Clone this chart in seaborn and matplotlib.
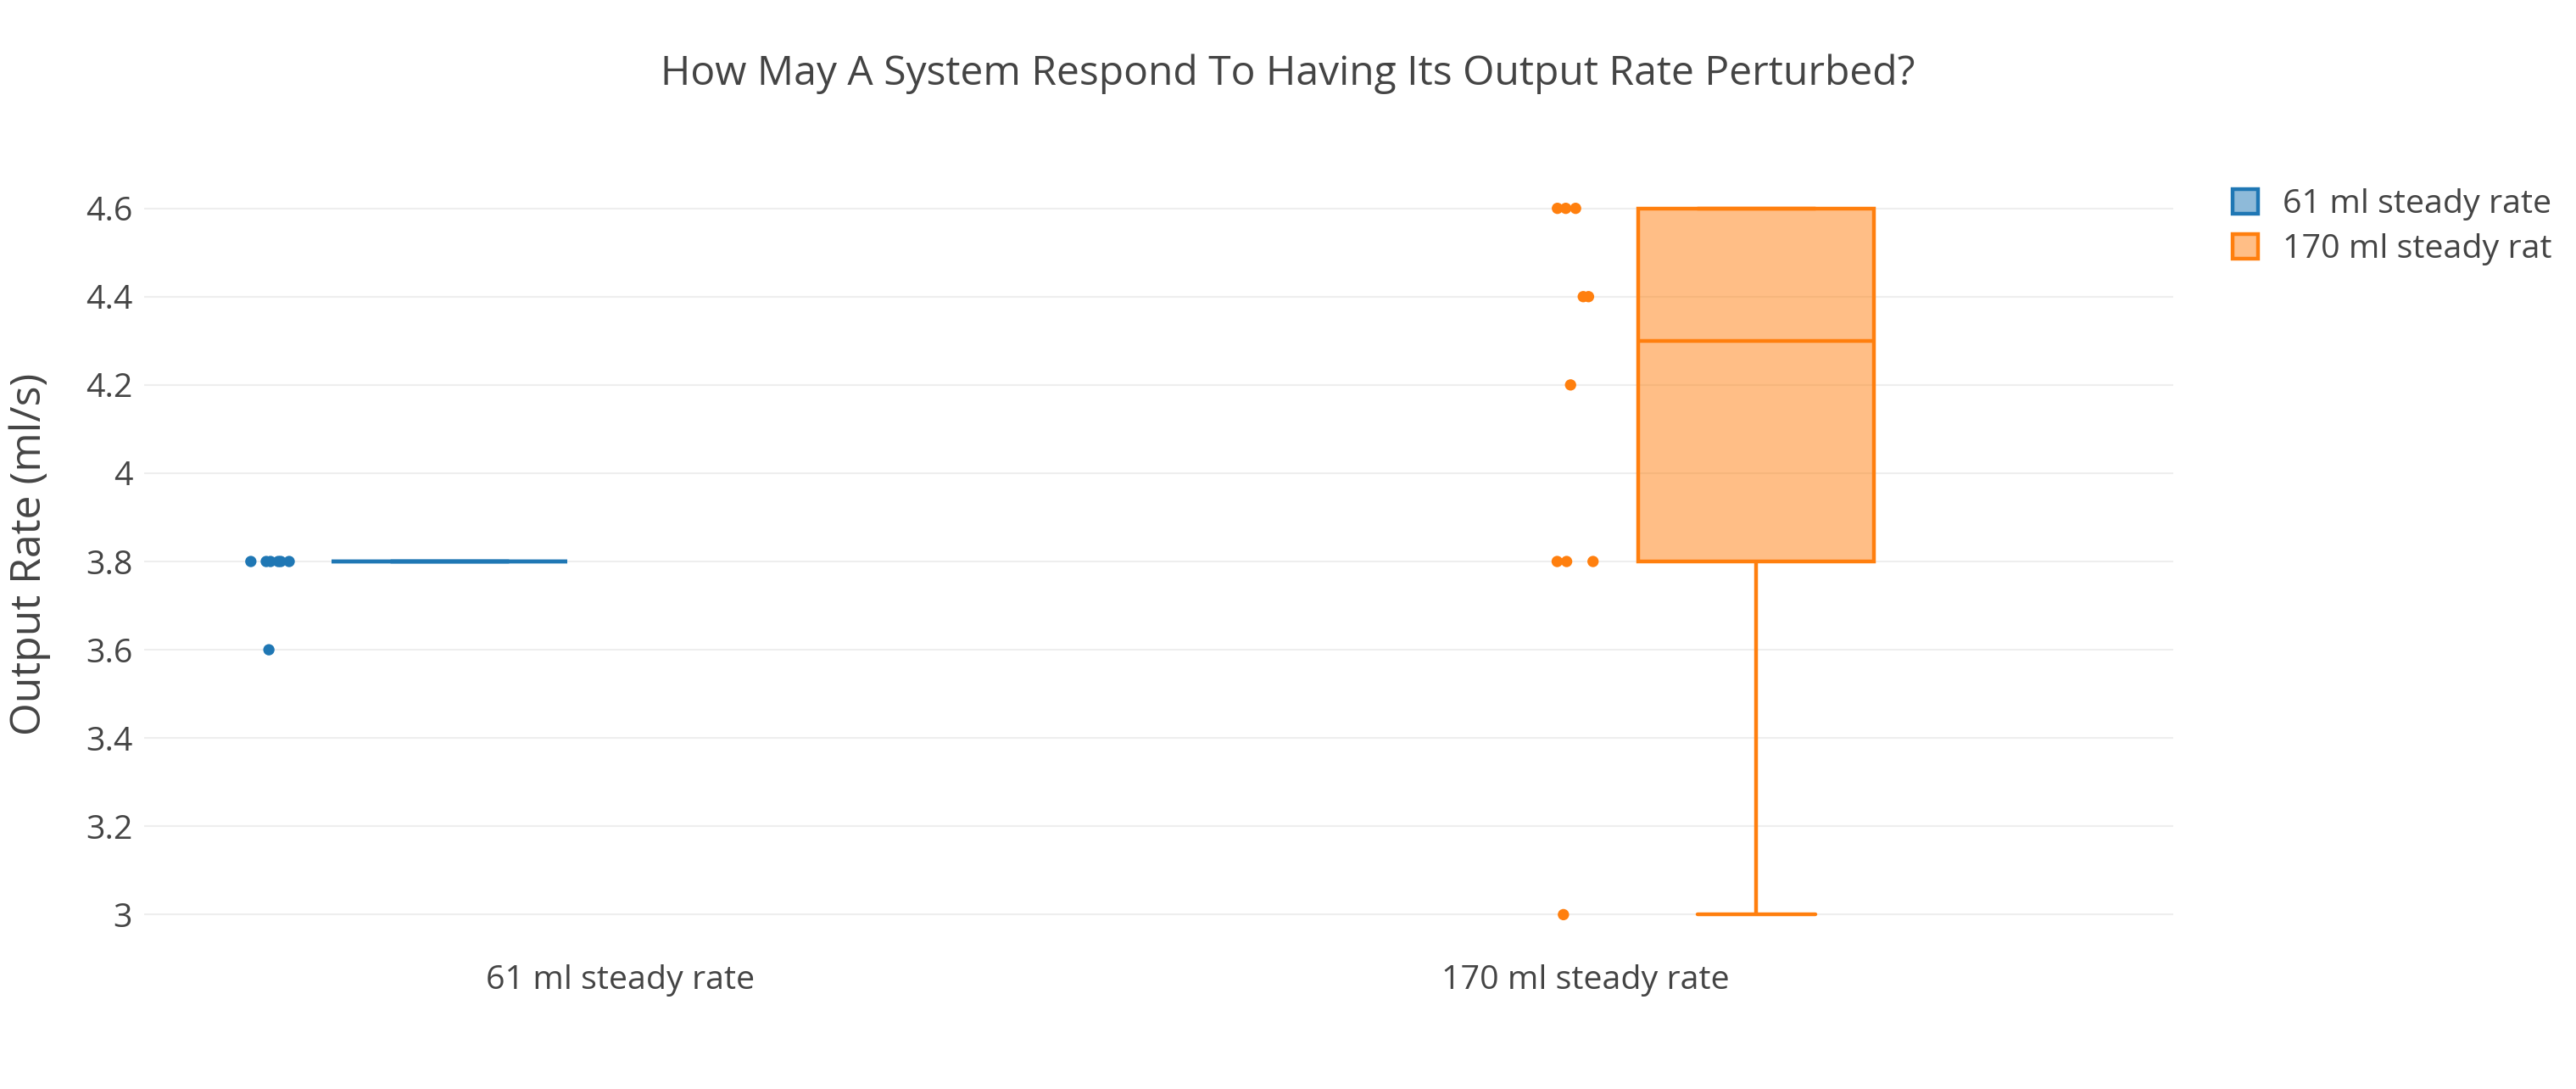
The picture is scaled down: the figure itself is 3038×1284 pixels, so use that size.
import numpy as np
import pandas as pd
import seaborn as sns
import matplotlib.cbook as cbook
import matplotlib.pyplot as plt
from matplotlib.colors import to_rgba
from matplotlib.ticker import FuncFormatter
from matplotlib.transforms import Bbox, TransformedBbox

sns.set_style('white')
plt.rcParams['font.family'] = ['Open Sans', 'DejaVu Sans']

# data
traces = ['61 ml steady rate', '170 ml steady rate']
colors = ['#1f77b4', '#ff7f0e']
rate_61 = [3.8, 3.8, 3.8, 3.8, 3.8, 3.8, 3.6]
rate_170 = [4.6, 4.6, 4.6, 4.4, 4.4, 4.2, 3.8, 3.8, 3.8, 3.0]
y_ticks = [3.0, 3.2, 3.4, 3.6, 3.8, 4.0, 4.2, 4.4, 4.6]

df = pd.concat([pd.DataFrame({'Setup': t, 'Rate': v})
                for t, v in zip(traces, [rate_61, rate_170])], ignore_index=True)
palette = dict(zip(traces, colors))

# the reference computes quartiles the "exclusive" way (Q3 of the 170 ml set is 4.6),
# matplotlib interpolates linearly, so swap the quartiles/whiskers in the stats
_boxplot_stats = cbook.boxplot_stats


def boxplot_stats_exclusive(X, whis=1.5, **kws):
    stats = _boxplot_stats(X, whis=whis, **kws)
    for st, arr in zip(stats, cbook._reshape_2D(X, 'X')):
        x = np.asarray(arr, dtype=float)
        if x.size == 0:
            continue
        q1, q3 = np.percentile(x, [25, 75], method='weibull')
        iqr = q3 - q1
        lo, hi = q1 - whis * iqr, q3 + whis * iqr
        inside = x[(x >= lo) & (x <= hi)]
        st.update(q1=q1, q3=q3, iqr=iqr, whislo=inside.min(), whishi=inside.max(),
                  fliers=x[(x < lo) | (x > hi)])
    return stats


cbook.boxplot_stats = boxplot_stats_exclusive

text_color = '#444444'
group_width = 0.706      # both boxes of a category slot
box_gap = 0.308
point_gap = 0.187        # points sit this far left of their box centre
strip_slot = 0.4         # seaborn's dodge offset for stripplot (0.8 / 2)

np.random.seed(7)

fig = plt.figure(figsize=(15.19, 6.42), dpi=200)
ax = fig.add_axes([0.056, 0.1277, 0.7877, 0.7134])

box_patches = []
for i, (trace, color) in enumerate(zip(traces, colors)):
    sub = df[df['Setup'] == trace]
    n_patches = len(ax.patches)
    sns.boxplot(data=sub, x='Setup', y='Rate', hue='Setup', order=traces, hue_order=traces,
                palette=palette, dodge=True, width=group_width, gap=box_gap, whis=1.5,
                showfliers=False, linecolor=color, linewidth=1.6, saturation=1,
                legend=False, ax=ax)
    for patch in ax.patches[n_patches:]:
        patch.set_facecolor(to_rgba(color, 0.5))
        patch.set_edgecolor(color)
        box_patches.append(patch)

    n_cols = len(ax.collections)
    sns.stripplot(data=sub, x='Setup', y='Rate', hue='Setup', order=traces, hue_order=traces,
                  palette=palette, dodge=True, jitter=0.044, size=4.8, linewidth=0,
                  legend=False, ax=ax, zorder=4)
    # move the points from the strip dodge slot to just left of their box
    side = i - 0.5
    delta = side * (group_width / 2 - strip_slot) - point_gap
    for col in ax.collections[n_cols:]:
        offs = col.get_offsets().copy()
        offs[:, 0] += delta
        col.set_offsets(offs)

cbook.boxplot_stats = _boxplot_stats

ax.set_xlim(-0.4925, 1.6084)
ax.set_ylim(2.92, 4.68)
ax.set_yticks(y_ticks)
ax.yaxis.set_major_formatter(FuncFormatter(lambda v, p: f'{v:g}'))
ax.yaxis.grid(True, color='#eeeeee', linewidth=0.75)
ax.xaxis.grid(False)
ax.set_axisbelow(True)
for s in ax.spines.values():
    s.set_visible(False)
ax.tick_params(length=0, labelsize=14.2, labelcolor=text_color)
ax.tick_params(axis='y', pad=5)
ax.tick_params(axis='x', pad=6)
ax.set_xlabel('')
ax.set_ylabel('Output Rate (ml/s)', fontsize=18, color=text_color)
ax.yaxis.set_label_coords(-0.046, 0.509)

fig.text(0.5, 1 - 87 / 1284, 'How May A System Respond To Having Its Output Rate Perturbed?',
         ha='center', va='center', fontsize=17.3, color=text_color)

leg = fig.legend(box_patches, traces, loc='upper left',
                 bbox_to_anchor=(2633 / 3038, 1 - 222 / 1284), frameon=False, fontsize=14.2,
                 handlelength=0.75, handleheight=0.75, handletextpad=0.75,
                 labelspacing=0.38, borderpad=0, borderaxespad=0, labelcolor=text_color)
clip = TransformedBbox(Bbox.from_extents(0, 0, 3010 / 3038, 1), fig.transFigure)
for txt in leg.get_texts():
    txt.set_clip_box(clip)
    txt.set_clip_on(True)

fig.savefig('out.png', dpi=200)
